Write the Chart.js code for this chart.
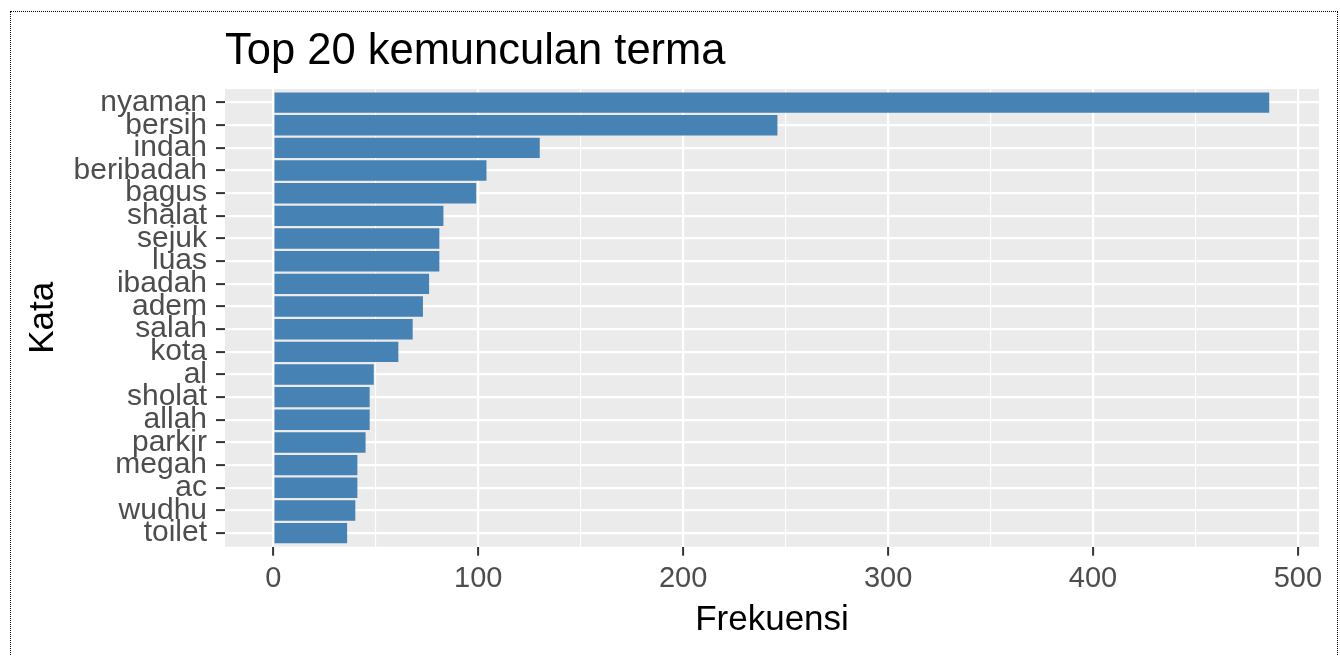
<!DOCTYPE html>
<html>
<head>
<meta charset="utf-8">
<script src="https://cdn.jsdelivr.net/npm/chart.js@4.4.1/dist/chart.umd.min.js"></script>
<style>
  html, body { margin: 0; padding: 0; background: #ffffff; }
  #wrap { position: relative; width: 1340px; height: 656px; overflow: hidden; }
  #frame {
    position: absolute; left: 10px; top: 11px; width: 1328px; height: 700px;
    box-sizing: border-box; border: 1px dotted #000000; pointer-events: none;
  }
  canvas { position: absolute; left: 0; top: 0; }
</style>
</head>
<body>
<div id="wrap">
  <canvas id="chart" width="1340" height="656"></canvas>
  <div id="frame"></div>
</div>
<script>
// data, top to bottom as in the plot
const kata = ["nyaman", "bersih", "indah", "beribadah", "bagus", "shalat", "sejuk", "luas",
  "ibadah", "adem", "salah", "kota", "al", "sholat", "allah", "parkir", "megah", "ac", "wudhu", "toilet"];
const frekuensi = [486, 246, 130, 104, 99, 83, 81, 81, 76, 73, 68, 61, 49, 47, 47, 45, 41, 41, 40, 36];
const xTicks = [0, 50, 100, 150, 200, 250, 300, 350, 400, 450, 500];

const judul = "Top 20 kemunculan terma";
const FONT = "'Liberation Sans', Arial, sans-serif";

// grey panel behind the grid, like ggplot's theme_gray
const panelBg = {
  id: "panelBg",
  beforeDraw(chart) {
    const { ctx, chartArea: a } = chart;
    ctx.save();
    ctx.fillStyle = "#EBEBEB";
    ctx.fillRect(a.left, a.top, a.right - a.left, a.bottom - a.top);
    ctx.restore();
  }
};

const judulPlugin = {
  id: "judulPlugin",
  afterDraw(chart) {
    const { ctx, chartArea: a } = chart;
    ctx.save();
    ctx.font = "43.5px " + FONT;
    ctx.fillStyle = "#000000";
    ctx.textAlign = "left";
    ctx.textBaseline = "alphabetic";
    ctx.fillText(judul, a.left, 64);
    ctx.restore();
  }
};

const isMajor = v => v % 100 === 0;

new Chart(document.getElementById("chart"), {
  type: "bar",
  data: {
    datasets: [{
      data: frekuensi.map((f, i) => ({ x: f, y: i + 1 })),
      backgroundColor: "#4682B4",
      borderWidth: 0,
      barPercentage: 0.9,
      categoryPercentage: 1.0
    }]
  },
  options: {
    indexAxis: "y",
    responsive: false,
    devicePixelRatio: 1,
    animation: false,
    layout: { padding: { top: 89, right: 21, bottom: 0, left: 0 } },
    plugins: { legend: { display: false }, tooltip: { enabled: false } },
    scales: {
      x: {
        type: "linear",
        min: -23.6,
        max: 510.3,
        afterBuildTicks: s => { s.ticks = xTicks.map(v => ({ value: v })); },
        afterFit: s => { s.height = 656 - 546.7; },
        border: { display: false },
        grid: {
          color: "#FFFFFF",
          lineWidth: c => (c.tick && isMajor(c.tick.value) ? 2.2 : 1.1),
          drawTicks: true,
          tickLength: 9,
          tickWidth: 2,
          tickColor: c => (c.tick && isMajor(c.tick.value) ? "#333333" : "rgba(0,0,0,0)")
        },
        ticks: {
          color: "#4D4D4D",
          font: { family: FONT, size: 29 },
          padding: 6,
          maxRotation: 0,
          autoSkip: false,
          callback: v => (isMajor(v) ? String(v) : "")
        },
        title: {
          display: true,
          text: "Frekuensi",
          color: "#000000",
          font: { family: FONT, size: 35, lineHeight: 1.2 },
          padding: { top: 0, bottom: 15 }
        }
      },
      y: {
        type: "linear",
        reverse: true,
        offset: false,
        min: 0.4,
        max: 20.6,
        afterBuildTicks: s => { s.ticks = kata.map((k, i) => ({ value: i + 1 })); },
        afterFit: s => { s.width = 225; },
        border: { display: false },
        grid: {
          offset: false,
          color: "#FFFFFF",
          lineWidth: 2.2,
          drawTicks: true,
          tickLength: 9,
          tickWidth: 2,
          tickColor: "#333333"
        },
        ticks: {
          color: "#4D4D4D",
          font: { family: FONT, size: 30 },
          padding: 9,
          autoSkip: false,
          callback: v => kata[v - 1] || ""
        },
        title: {
          display: true,
          text: "Kata",
          color: "#000000",
          font: { family: FONT, size: 35, lineHeight: 1.2 },
          padding: { top: 22, bottom: 0 }
        }
      }
    }
  },
  plugins: [panelBg, judulPlugin]
});
</script>
</body>
</html>
